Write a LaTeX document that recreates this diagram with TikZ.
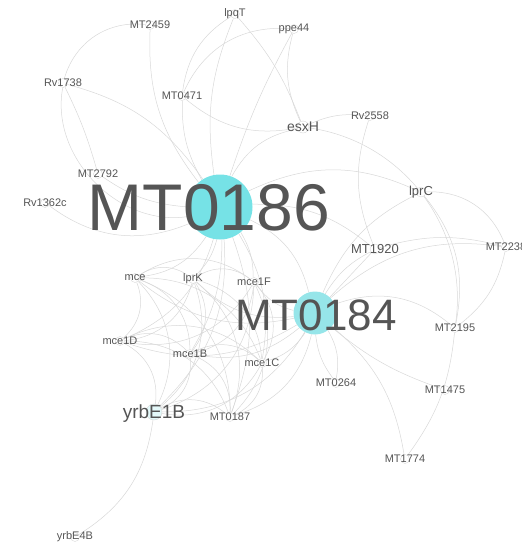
\documentclass[tikz,border=0pt]{standalone}
\usepackage{fontspec}
\setmainfont{Liberation Sans}
\usetikzlibrary{positioning}
\definecolor{hubcyan}{RGB}{118,226,230}
\definecolor{hubcyanlt}{RGB}{150,229,233}
\definecolor{edgegray}{RGB}{216,216,216}
\definecolor{labgray}{RGB}{85,85,85}
\pgfdeclarelayer{bg}
\pgfsetlayers{bg,main}

\begin{document}
\begin{tikzpicture}[x=1pt, y=1pt,
    dot/.style={circle, draw=gray!30, fill=white, line width=0.4pt, minimum size=9pt, inner sep=0pt},
    hub/.style={circle, fill=hubcyan, inner sep=0pt},
    edge/.style={draw=edgegray, line width=0.5pt},
    lab/.style={text=labgray, inner sep=0pt, font=\fontsize{11}{11}\selectfont}
  ]
  \useasboundingbox (0,0) rectangle (522,-542);

  % nodes
  \node[dot] (MT2459) at (150,-25) {};
  \node[dot] (lpqT) at (235,-14) {};
  \node[dot] (ppe44) at (294,-29) {};
  \node[dot] (Rv1738) at (63,-83) {};
  \node[dot] (MT0471) at (182,-96) {};
  \node[dot, minimum size=12pt] (esxH) at (303,-127) {};
  \node[dot] (Rv2558) at (370,-116) {};
  \node[dot] (MT2792) at (98,-174) {};
  \node[dot] (Rv1362c) at (45,-203) {};
  \node[hub, minimum size=65pt] (MT0186) at (220,-207) {};
  \node[dot, minimum size=10pt] (lprC) at (421,-192) {};
  \node[dot, minimum size=10pt] (MT1920) at (375,-249) {};
  \node[dot] (MT2238) at (506,-247) {};
  \node[dot] (mce) at (135,-278) {};
  \node[dot] (lprK) at (193,-279) {};
  \node[dot] (mce1F) at (254,-282) {};
  \node[hub, fill=hubcyanlt, minimum size=43pt] (MT0184) at (315,-313) {};
  \node[dot] (mce1D) at (120,-341) {};
  \node[dot] (mce1B) at (190,-354) {};
  \node[dot] (mce1C) at (262,-363) {};
  \node[dot] (MT2195) at (455,-328) {};
  \node[dot] (MT0264) at (336,-383) {};
  \node[dot] (MT1475) at (445,-390) {};
  \node[dot, fill=hubcyan!20, minimum size=16pt] (yrbE1B) at (154,-412) {};
  \node[dot] (MT0187) at (230,-417) {};
  \node[dot] (MT1774) at (405,-459) {};
  \node[dot] (yrbE4B) at (75,-537) {};

  % edges
  \begin{pgfonlayer}{bg}
    \foreach \n/\b in {MT2459/20, lpqT/15, ppe44/5, MT0471/15, esxH/25, MT2792/15,
        Rv1362c/30, lprC/25, MT1920/20, mce/25, lprK/15, mce1F/15, mce1D/25,
        mce1B/15, mce1C/20, yrbE1B/25, MT0187/20, MT0184/25}
      \draw[edge] (MT0186) to[bend left=\b] (\n);
    \foreach \n/\b in {MT1920/15, lprC/20, MT2195/30, MT2238/25, MT0264/20,
        MT1475/-10, MT1774/20, mce1F/20, mce1C/20, mce1B/25, MT0187/30,
        yrbE1B/30, lprK/25, mce/25, mce1D/25}
      \draw[edge] (MT0184) to[bend left=\b] (\n);
    \draw[edge] (MT0264) to[bend left=15] (MT0184);
    \draw[edge] (MT1920) -- (MT0184);
    % mce cluster
    \foreach \a/\b in {mce/lprK, mce/mce1F, mce/mce1D, mce/mce1B, mce/mce1C,
        mce/yrbE1B, mce/MT0187, lprK/mce1F, lprK/mce1D, lprK/mce1B, lprK/mce1C,
        lprK/yrbE1B, lprK/MT0187, mce1F/mce1D, mce1F/mce1B, mce1F/mce1C,
        mce1F/yrbE1B, mce1F/MT0187, mce1D/mce1B, mce1D/mce1C, mce1D/yrbE1B,
        mce1D/MT0187, mce1B/mce1C, mce1B/yrbE1B, mce1B/MT0187, mce1C/yrbE1B,
        mce1C/MT0187, yrbE1B/MT0187}
      \draw[edge] (\a) to[bend left=35] (\b);
    % outer edges
    \draw[edge] (Rv1738) to[bend left=40] (MT2459);
    \draw[edge] (Rv1738) to[bend right=55] (MT0186);
    \draw[edge] (Rv1738) to[bend left=5] (MT2792);
    \draw[edge] (Rv1738) to[bend left=20] (MT0186);
    \draw[edge] (lpqT) to[bend right=25] (MT0471);
    \draw[edge] (lpqT) to[bend left=10] (esxH);
    \draw[edge] (ppe44) to[bend right=35] (MT0471);
    \draw[edge] (ppe44) to[bend right=20] (esxH);
    \draw[edge] (MT0471) to[bend right=25] (esxH);
    \draw[edge] (esxH) to[bend left=15] (Rv2558);
    \draw[edge] (esxH) to[bend left=45] (MT2195);
    \draw[edge] (Rv2558) to[bend right=20] (MT1920);
    \draw[edge] (lprC) to[bend left=35] (MT2238);
    \draw[edge] (lprC) to[bend left=25] (MT2195);
    \draw[edge] (MT1920) to[bend left=15] (MT2238);
    \draw[edge] (MT2238) to[bend left=20] (MT2195);
    \draw[edge] (MT2195) to[bend left=15] (MT1774);
    \draw[edge] (yrbE1B) to[bend left=25] (yrbE4B);
  \end{pgfonlayer}

  % labels
  \foreach \n in {MT2459, lpqT, ppe44, Rv1738, MT0471, Rv2558, MT2792, Rv1362c,
      MT2238, mce, lprK, mce1F, mce1D, mce1B, mce1C, MT2195, MT0264, MT1475,
      MT0187, MT1774, yrbE4B}
    \node[lab] (\n-t) at (\n) {\n};
  \node[lab, font=\fontsize{14}{14}\selectfont] (esxH-t) at (esxH) {esxH};
  \node[lab, font=\fontsize{13}{13}\selectfont] (lprC-t) at (lprC) {lprC};
  \node[lab, font=\fontsize{13}{13}\selectfont] (MT1920-t) at (MT1920) {MT1920};
  \node[lab, font=\fontsize{19}{19}\selectfont, yshift=-2pt] (yrbE1B-t) at (yrbE1B) {yrbE1B};
  \node[lab, font=\fontsize{44}{44}\selectfont] (MT0184-t) at (316,-315) {MT0184};
  \node[lab, font=\fontsize{66}{66}\selectfont] (MT0186-t) at (209,-208) {MT0186};
\end{tikzpicture}
\end{document}
